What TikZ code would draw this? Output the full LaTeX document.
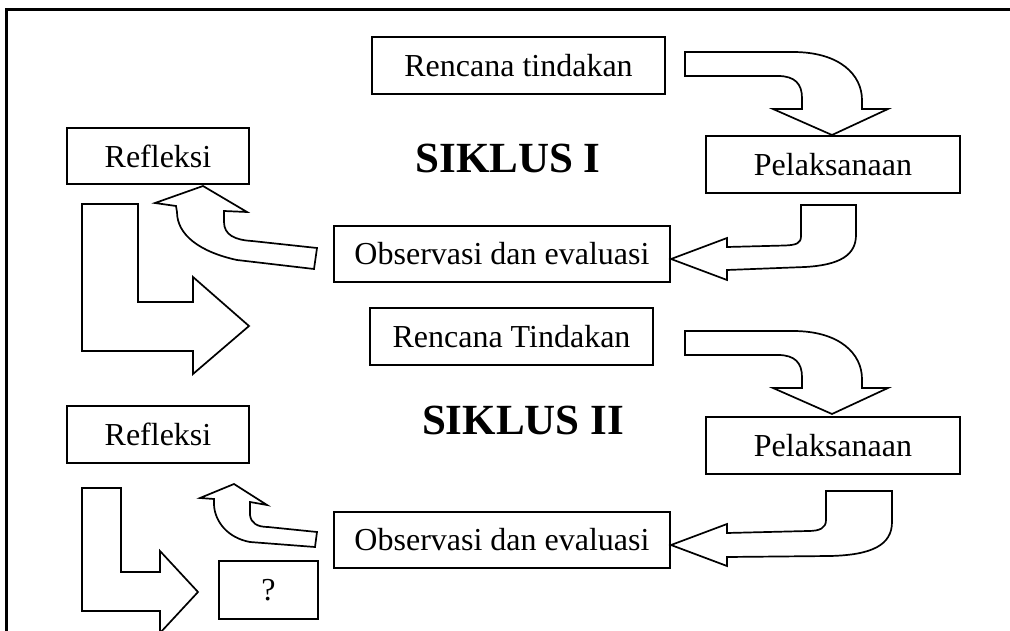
\documentclass[tikz,border=0pt]{standalone}
\usepackage{fontspec}
\setmainfont{Liberation Serif}
\begin{document}
\begin{tikzpicture}[x=1pt,y=-1pt,
  box/.style={draw, line width=1.8pt, inner sep=0pt, font=\fontsize{32}{38}\selectfont},
  barrow/.style={draw, line width=1.7pt, fill=white, line join=miter},
  siklus/.style={font=\fontsize{43}{50}\selectfont\bfseries}]
\useasboundingbox (0,0) rectangle (1010,631);
\fill[white] (0,0) rectangle (1010,631);
\draw[line width=2.2pt] (6.5,631) -- (6.5,9.5) -- (1010,9.5);

% boxes
\node[box, minimum width=293pt, minimum height=57pt] (r1) at (518.5,65.5) {Rencana tindakan};
\node[box, minimum width=254pt, minimum height=57pt] (p1) at (833,164.5) {Pelaksanaan};
\node[box, minimum width=182pt, minimum height=56pt] (f1) at (158,156) {Refleksi};
\node[box, minimum width=336pt, minimum height=56pt] (o1) at (502,254) {Observasi dan evaluasi};
\node[box, minimum width=283pt, minimum height=57pt] (r2) at (511.5,336.5) {Rencana Tindakan};
\node[box, minimum width=254pt, minimum height=57pt] (p2) at (833,445.5) {Pelaksanaan};
\node[box, minimum width=182pt, minimum height=57pt] (f2) at (158,434.5) {Refleksi};
\node[box, minimum width=336pt, minimum height=56pt] (o2) at (502,540) {Observasi dan evaluasi};
\node[box, minimum width=99pt, minimum height=58pt] (q) at (268.5,590) {?};

\node[siklus] (s1) at (508,158) {SIKLUS I};
\node[siklus] (s2) at (523,420) {SIKLUS II};

% curved arrow: rencana -> pelaksanaan (cycle I)
\draw[barrow] (685,52) -- (793,52) .. controls (840,52) and (862,75) .. (862,100)
  -- (862,109) -- (888,109) -- (832,135) -- (773,109) -- (802,109) -- (802,98)
  .. controls (802,84) and (795,76) .. (778,76) -- (685,76) -- cycle;
% curved arrow: rencana -> pelaksanaan (cycle II)
\begin{scope}[yshift=-279pt]
\draw[barrow] (685,52) -- (793,52) .. controls (840,52) and (862,75) .. (862,100)
  -- (862,109) -- (888,109) -- (832,135) -- (773,109) -- (802,109) -- (802,98)
  .. controls (802,84) and (795,76) .. (778,76) -- (685,76) -- cycle;
\end{scope}

% pelaksanaan -> observasi (I)
\draw[barrow] (801,205) -- (856,205) -- (856,235)
  .. controls (856,255) and (840,265) .. (805,267) -- (727,270) -- (727,280) -- (671,259)
  -- (727,238) -- (727,247) -- (785,245.5) .. controls (797,245) and (801,243) .. (801,236) -- cycle;
% pelaksanaan -> observasi (II)
\draw[barrow] (826,491) -- (892,491) -- (892,522)
  .. controls (892,545) and (872,555) .. (830,556) -- (727,557) -- (727,566) -- (671,545)
  -- (727,524) -- (727,533) -- (808,531) .. controls (820,531) and (826,528) .. (826,520) -- cycle;

% observasi -> refleksi (I)
\draw[barrow] (314,269) -- (237,260) .. controls (200,252) and (177,235) .. (177,212)
  -- (176,206) -- (155,203) -- (203,186) -- (247,212) -- (224,211) -- (224,222)
  .. controls (224,235) and (235,240) .. (252,241) -- (317,248) -- cycle;
% observasi -> refleksi (II)
\draw[barrow] (315,547) -- (250,542) .. controls (228,538) and (215,522) .. (214,505)
  -- (214,499) -- (200,498) -- (234,484) -- (267,505) -- (250,502) -- (250,515)
  .. controls (251,523) and (257,527) .. (268,527) -- (317,532) -- cycle;

% L arrows
\draw[barrow] (82,204) -- (138,204) -- (138,302) -- (193,302) -- (193,277) -- (249,326)
  -- (193,374) -- (193,351) -- (82,351) -- cycle;
\draw[barrow] (82,488) -- (121,488) -- (121,572) -- (160,572) -- (160,551) -- (198,592)
  -- (160,633) -- (160,611) -- (82,611) -- cycle;
\end{tikzpicture}
\end{document}
